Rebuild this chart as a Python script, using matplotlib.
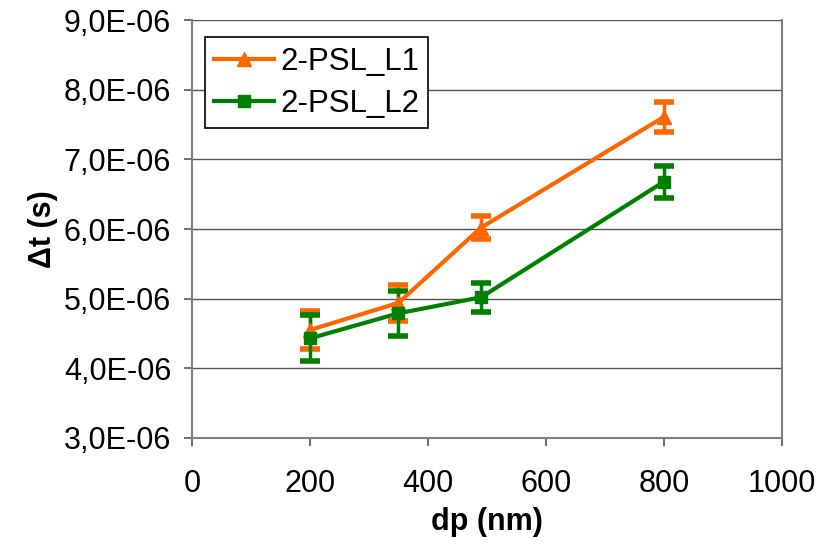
import matplotlib
matplotlib.use("Agg")
import matplotlib.pyplot as plt
from matplotlib.ticker import FuncFormatter, MultipleLocator
from matplotlib.lines import Line2D

# Data
dp = [200, 350, 490, 800]
l1_values = [4.55e-6, 4.94e-6, 6.02e-6, 7.61e-6]
l1_errors = [0.27e-6, 0.26e-6, 0.16e-6, 0.22e-6]
l2_values = [4.43e-6, 4.79e-6, 5.02e-6, 6.68e-6]
l2_errors = [0.33e-6, 0.32e-6, 0.21e-6, 0.23e-6]
series_labels = ["2-PSL_L1", "2-PSL_L2"]
x_label = "dp (nm)"
y_label = "Δt (s)"

plt.rcParams['font.family'] = ['Liberation Sans', 'DejaVu Sans']

fig = plt.figure(figsize=(8.16, 5.47), dpi=100)
ax = fig.add_axes([0.2353, 0.1993, 0.7230, 0.7641])

orange = "#FF6600"
green = "#008000"

handles = []
for vals, errs, col, mk, ms, lab in [
    (l1_values, l1_errors, orange, "^", 10, series_labels[0]),
    (l2_values, l2_errors, green, "s", 9, series_labels[1]),
]:
    ax.errorbar(dp, vals, yerr=errs, color=col, marker=mk, markersize=ms,
                linewidth=3, elinewidth=2.5, capsize=7, capthick=4,
                zorder=3)
    handles.append(Line2D([], [], color=col, marker=mk, markersize=ms,
                          linewidth=3, label=lab))

ax.set_xlim(0, 1000)
ax.set_ylim(3e-6, 9e-6)
ax.xaxis.set_major_locator(MultipleLocator(200))
ax.yaxis.set_major_locator(MultipleLocator(1e-6))

def yfmt(v, pos):
    s = "%.1E" % v
    return s.replace(".", ",")
ax.yaxis.set_major_formatter(FuncFormatter(yfmt))

ax.grid(axis='y', color='#555555', linewidth=1.0, zorder=0)
ax.set_axisbelow(True)
for sp in ax.spines.values():
    sp.set_color('#808080')
    sp.set_linewidth(1.5)
ax.spines['top'].set_visible(False)

ax.tick_params(axis='both', direction='out', length=6, width=1.2,
               color='#555555', labelsize=22)
ax.tick_params(axis='y', pad=9)
ax.tick_params(axis='x', pad=16)

ax.set_xlabel(x_label, fontsize=22, fontweight='bold', labelpad=6)
ax.set_ylabel(y_label, fontsize=22, fontweight='bold', labelpad=4)

leg = ax.legend(handles=handles, loc='upper left', bbox_to_anchor=(0.022, 0.959),
                borderaxespad=0, fontsize=22.5, frameon=True, fancybox=False,
                edgecolor='black', framealpha=1, handlelength=1.9,
                handletextpad=0.2, labelspacing=0.4, borderpad=0.3)
leg.get_frame().set_linewidth(1.2)

fig.savefig("out.png", dpi=100)
